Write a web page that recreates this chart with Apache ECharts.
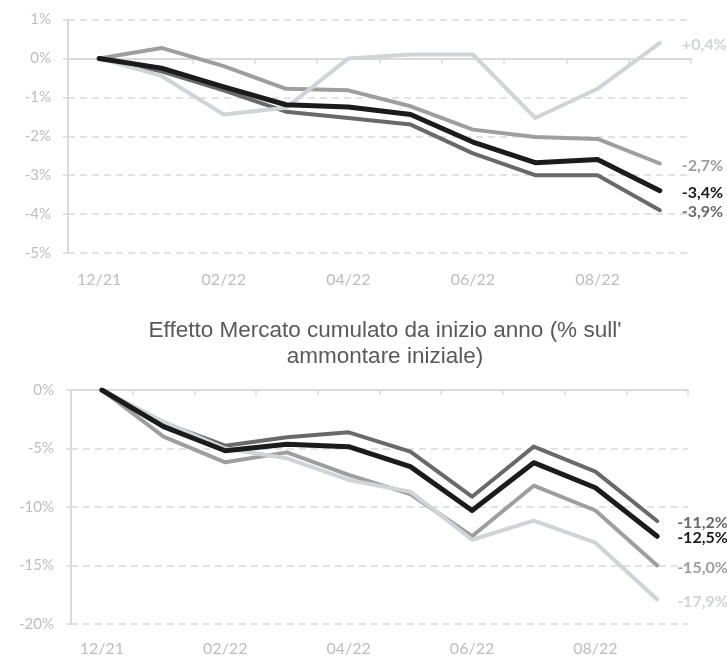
<!DOCTYPE html>
<html>
<head>
<meta charset="utf-8">
<script src="https://cdn.jsdelivr.net/npm/echarts@6/dist/echarts.min.js"></script>
<style>
  html, body { margin: 0; padding: 0; background: #ffffff; }
  #chart { width: 727px; height: 657px; }
</style>
</head>
<body>
<div id="chart"></div>
<script>
// Month categories shared by both panels
const months = ['12/21', '01/22', '02/22', '03/22', '04/22', '05/22', '06/22', '07/22', '08/22', '09/22'];

// Upper panel: cumulative performance (%)
const topLight  = [0, -0.45, -1.44, -1.27, 0.0, 0.1, 0.1, -1.53, -0.78, 0.4];
const topMedium = [0, 0.27, -0.2, -0.78, -0.82, -1.23, -1.83, -2.02, -2.07, -2.7];
const topDark   = [0, -0.33, -0.82, -1.37, -1.53, -1.7, -2.44, -3.0, -3.0, -3.9];
const topBlack  = [0, -0.25, -0.73, -1.19, -1.25, -1.44, -2.15, -2.68, -2.6, -3.4];

// Lower panel: cumulative market effect (%)
const botLight  = [0, -2.71, -5.0, -5.84, -7.69, -8.69, -12.8, -11.17, -13.05, -17.9];
const botMedium = [0, -3.99, -6.18, -5.33, -7.26, -8.9, -12.5, -8.18, -10.3, -15.0];
const botDark   = [0, -2.8, -4.76, -4.04, -3.62, -5.27, -9.12, -4.84, -6.98, -11.2];
const botBlack  = [0, -3.13, -5.19, -4.64, -4.84, -6.55, -10.3, -6.21, -8.35, -12.5];

const bottomTitle = "Effetto Mercato cumulato da inizio anno (% sull'\nammontare iniziale)";

const C_LIGHT = '#d0d3d8';
const C_MED = '#9e9e9e';
const C_DARK = '#696969';
const C_BLACK = '#1b1b1b';
const AXIS_C = '#d9d9d9';
const TICK_TXT = '#bdbdbd';
const FONT = 'Lato, "Open Sans", sans-serif';

function endText(v) {
  return (v > 0 ? '+' : '') + v.toFixed(1).replace('.', ',') + '%';
}

function mkX(gridIndex, labelMargin) {
  return {
    type: 'category', gridIndex, data: months, boundaryGap: true,
    axisLine: { show: true, lineStyle: { color: AXIS_C, width: 2 } },
    axisTick: { show: true, interval: 0, length: 5, lineStyle: { color: AXIS_C, width: 1.5 } },
    axisLabel: { interval: 1, color: TICK_TXT, fontFamily: FONT, fontSize: 16, margin: labelMargin },
    splitLine: { show: false }
  };
}

function mkY(gridIndex, min, max, interval) {
  return {
    type: 'value', gridIndex, min, max, interval,
    axisLine: { show: true, lineStyle: { color: AXIS_C, width: 2 } },
    axisTick: { show: true, length: 5, lineStyle: { color: AXIS_C, width: 1.5 } },
    axisLabel: { color: TICK_TXT, fontFamily: FONT, fontSize: 15, margin: 17,
                 formatter: v => v + '%' },
    splitLine: { show: true, lineStyle: { color: AXIS_C, width: 1.5, type: [7, 5] } }
  };
}

function mkLine(idx, data, color, width, z, dx) {
  return {
    type: 'line', xAxisIndex: idx, yAxisIndex: idx, data, z,
    symbol: 'none', smooth: false, silent: true,
    lineStyle: { color, width, cap: 'round', join: 'round' },
    endLabel: {
      show: true, distance: dx, offset: [0, 2],
      formatter: p => endText(p.value),
      color, fontFamily: FONT, fontWeight: 'bold', fontSize: 16
    }
  };
}

const chart = echarts.init(document.getElementById('chart'), null, { renderer: 'canvas' });
chart.setOption({
  animation: false,
  backgroundColor: '#ffffff',
  title: {
    text: bottomTitle,
    left: 380, top: 313, textAlign: 'center',
    textStyle: {
      fontFamily: '"Liberation Sans Narrow", "Arial Narrow", "Liberation Sans", sans-serif',
      fontWeight: 'normal', fontSize: 22.5, lineHeight: 26, color: '#595959'
    }
  },
  grid: [
    { left: 68, top: 19.5, width: 623, height: 233.5, containLabel: false },
    { left: 71, top: 390, width: 617, height: 234, containLabel: false }
  ],
  xAxis: [mkX(0, 19), mkX(1, 17)],
  yAxis: [mkY(0, -5, 1, 1), mkY(1, -20, 0, 5)],
  series: [
    mkLine(0, topMedium, C_MED, 4, 2, 22),
    mkLine(0, topDark, C_DARK, 4, 3, 22),
    mkLine(0, topLight, C_LIGHT, 4, 4, 22),
    mkLine(0, topBlack, C_BLACK, 5, 5, 22),
    mkLine(1, botMedium, C_MED, 4, 2, 20),
    mkLine(1, botDark, C_DARK, 4, 3, 20),
    mkLine(1, botLight, C_LIGHT, 4, 4, 20),
    mkLine(1, botBlack, C_BLACK, 5, 5, 20)
  ]
});
</script>
</body>
</html>
